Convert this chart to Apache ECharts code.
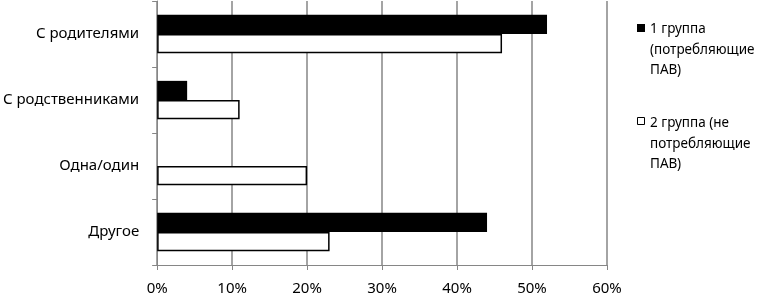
<!DOCTYPE html>
<html><head><meta charset="utf-8">
<script src="https://cdn.jsdelivr.net/npm/echarts@6/dist/echarts.min.js"></script>
<style>html,body{margin:0;padding:0;background:#fff}#c{width:760px;height:299px}</style>
</head><body><div id="c"></div>
<script>
const categories = ['С родителями', 'С родственниками', 'Одна/один', 'Другое'];
const group1 = [52, 4, 0, 44];
const group2 = [46, 11, 20, 23];
const seriesNames = ['1 группа (потребляющие ПАВ)', '2 группа (не потребляющие ПАВ)'];
const xTicks = [0, 10, 20, 30, 40, 50, 60];

const FONT = 'Noto Sans';
const chart = echarts.init(document.getElementById('c'));
chart.setOption({
  animation: false,
  textStyle: { fontFamily: FONT },
  grid: { left: 157, right: 153, top: 1, bottom: 34 },
  xAxis: {
    type: 'value', min: xTicks[0], max: xTicks[xTicks.length - 1], interval: 10,
    axisLine: { show: true, lineStyle: { color: '#868686', width: 1 } },
    axisTick: { show: true, length: 5, lineStyle: { color: '#868686' } },
    splitLine: { show: true, lineStyle: { color: '#868686', width: 1.5 } },
    axisLabel: { formatter: '{value}%', color: '#000', fontSize: 15, margin: 16, fontFamily: FONT }
  },
  yAxis: {
    type: 'category', data: categories, inverse: true,
    axisLine: { show: true, lineStyle: { color: '#868686', width: 1 } },
    axisTick: { show: true, length: 5, lineStyle: { color: '#868686' } },
    axisLabel: { color: '#000', fontSize: 15, margin: 18, fontFamily: FONT }
  },
  series: [
    { name: seriesNames[0], type: 'bar', data: group1, barGap: '0%', barCategoryGap: '42%',
      itemStyle: { color: '#000', borderWidth: 0 } },
    { name: seriesNames[1], type: 'bar', data: group2, barGap: '0%', barCategoryGap: '42%',
      itemStyle: { color: '#fff', borderColor: '#000', borderWidth: 1.5 } }
  ],
  graphic: [
    { type: 'rect', left: 637, top: 24, shape: { width: 8, height: 8 }, style: { fill: '#000' } },
    { type: 'text', left: 650, top: 19, style: { text: '1 группа\n(потребляющие\nПАВ)', font: '13.5px "Noto Sans"', fill: '#000', lineHeight: 20.5 } },
    { type: 'rect', left: 637, top: 117, shape: { width: 7, height: 7 }, style: { fill: '#fff', stroke: '#000', lineWidth: 1 } },
    { type: 'text', left: 650, top: 113, style: { text: '2 группа (не\nпотребляющие\nПАВ)', font: '13.5px "Noto Sans"', fill: '#000', lineHeight: 20.5 } }
  ]
});
</script></body></html>
